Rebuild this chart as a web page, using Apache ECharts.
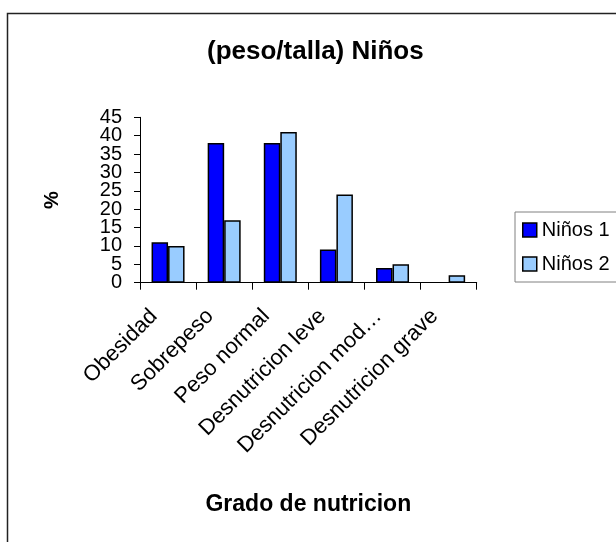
<!DOCTYPE html>
<html>
<head>
<meta charset="utf-8">
<title>(peso/talla) Niños</title>
<script src="https://cdn.jsdelivr.net/npm/echarts@6/dist/echarts.min.js"></script>
<style>
  html, body { margin: 0; padding: 0; background: #ffffff; }
  #chart { width: 616px; height: 542px; }
</style>
</head>
<body>
<div id="chart"></div>
<script>
// Grado de nutricion categories and percentages per group
const categories = ['Obesidad', 'Sobrepeso', 'Peso normal', 'Desnutricion leve', 'Desnutricion mod\u2026', 'Desnutricion grave'];
const ninos1 = [11, 38, 38, 9, 4, 0];
const ninos2 = [10, 17, 41, 24, 5, 2];
const yTicks = { min: 0, max: 45, interval: 5 };

const FONT = '"Liberation Sans", Arial, sans-serif';

// zero-height bars get no outline so they leave no stray line on the axis
const barData = values => values.map(v => (v === 0 ? { value: v, itemStyle: { borderWidth: 0 } } : v));

// The tick labels are packed tighter than their font height, so they are
// split over two stacked value axes (multiples of 10 / odd multiples of 5)
// to keep the library's overlap culling from dropping any of them.
const labelStyle = { margin: 18, fontFamily: FONT, fontSize: 20, color: '#000' };
const baseY = {
  type: 'value',
  position: 'left',
  min: yTicks.min,
  max: yTicks.max,
  interval: yTicks.interval,
  splitLine: { show: false }
};

const chart = echarts.init(document.getElementById('chart'), null, { renderer: 'canvas' });

chart.setOption({
  backgroundColor: '#ffffff',
  animation: false,
  textStyle: { fontFamily: FONT, color: '#000' },
  title: {
    text: '(peso/talla) Niños',
    left: 207,
    top: 39,
    padding: 0,
    textStyle: { fontFamily: FONT, fontSize: 26, fontWeight: 'bold', color: '#000' }
  },
  graphic: [{
    type: 'rect',
    z: -1,
    shape: { x: 7.5, y: 13.5, width: 700, height: 600 },
    style: { fill: 'none', stroke: '#222', lineWidth: 1.5 }
  }],
  legend: {
    orient: 'vertical',
    left: 515,
    top: 212,
    padding: [8, 40, 8, 7],
    itemWidth: 14,
    itemHeight: 14,
    itemGap: 14,
    borderColor: '#808080',
    borderWidth: 1,
    icon: 'rect',
    itemStyle: { borderColor: '#000', borderWidth: 1.5 },
    textStyle: { fontFamily: FONT, fontSize: 20, color: '#000' },
    data: ['Niños 1', 'Niños 2']
  },
  grid: {
    left: 140,
    top: 117.3,
    width: 336.7,
    height: 165.4,
    containLabel: false
  },
  xAxis: {
    type: 'category',
    data: categories,
    name: 'Grado de nutricion',
    nameLocation: 'middle',
    nameGap: 210,
    nameTextStyle: { fontFamily: FONT, fontSize: 23, fontWeight: 'bold', color: '#000' },
    axisLine: { lineStyle: { color: '#000', width: 1 } },
    axisTick: { show: true, length: 7, lineStyle: { color: '#000' } },
    axisLabel: {
      interval: 0,
      rotate: 45,
      margin: 16,
      padding: [0, 20, 0, 0],
      fontFamily: FONT,
      fontSize: 22,
      color: '#000'
    }
  },
  yAxis: [
    Object.assign({}, baseY, {
      name: '%',
      nameLocation: 'middle',
      nameRotate: 90,
      nameGap: 78,
      nameTextStyle: { fontFamily: FONT, fontSize: 20, fontWeight: 'bold', color: '#000' },
      axisLine: { show: true, lineStyle: { color: '#000', width: 1 } },
      axisTick: { show: true, length: 6, lineStyle: { color: '#000' } },
      axisLabel: Object.assign({}, labelStyle, {
        showMinLabel: true,
        formatter: v => (v % 10 === 0 ? String(v) : '')
      })
    }),
    Object.assign({}, baseY, {
      axisLine: { show: false },
      axisTick: { show: false },
      axisLabel: Object.assign({}, labelStyle, {
        showMaxLabel: true,
        formatter: v => (v % 10 === 5 ? String(v) : '')
      })
    })
  ],
  series: [
    {
      name: 'Niños 1',
      type: 'bar',
      yAxisIndex: 0,
      data: barData(ninos1),
      barWidth: 16.5,
      barGap: '0%',
      itemStyle: { color: '#0000FF', borderColor: '#000', borderWidth: 1.5 }
    },
    {
      name: 'Niños 2',
      type: 'bar',
      yAxisIndex: 0,
      data: barData(ninos2),
      barWidth: 16.5,
      barGap: '0%',
      itemStyle: { color: '#99CCFF', borderColor: '#000', borderWidth: 1.5 }
    }
  ]
});
</script>
</body>
</html>
